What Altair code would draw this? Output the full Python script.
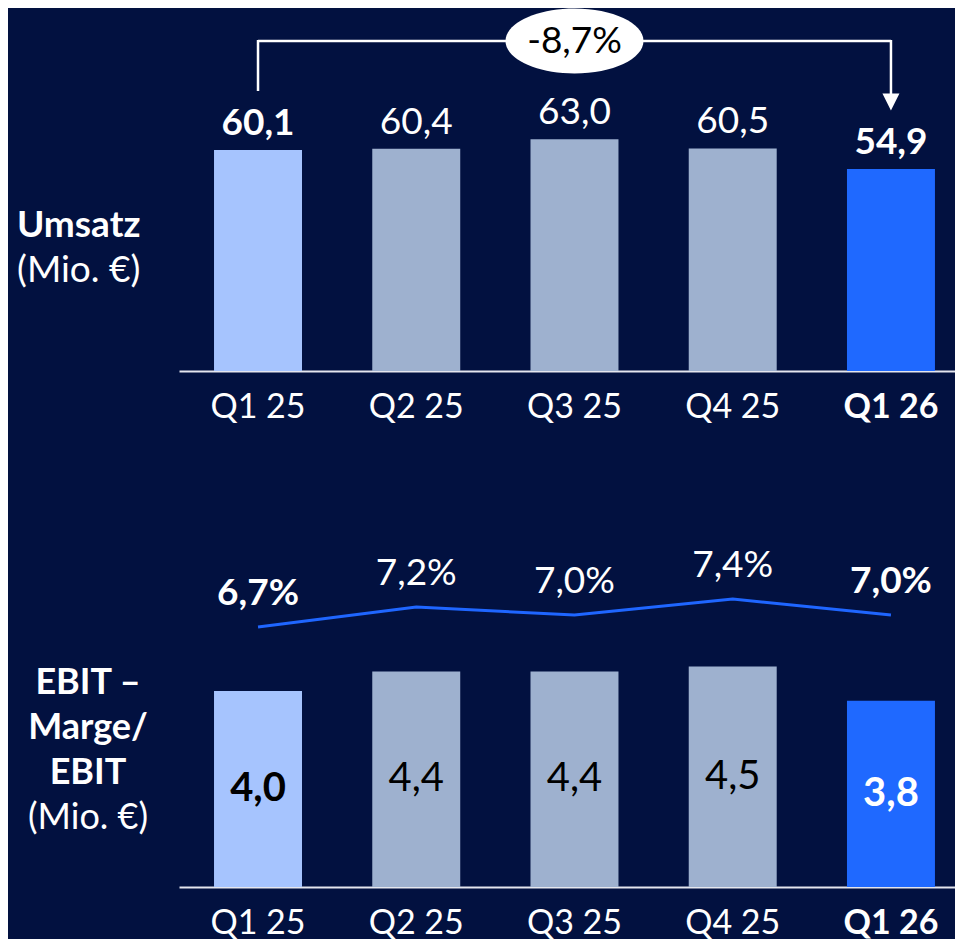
import altair as alt
import pandas as pd

# ---- data -------------------------------------------------------------
quarters = ["Q1 25", "Q2 25", "Q3 25", "Q4 25", "Q1 26"]
umsatz = [60.1, 60.4, 63.0, 60.5, 54.9]          # Mio. €
ebit = [4.0, 4.4, 4.4, 4.5, 3.8]                 # Mio. €
marge = [6.7, 7.2, 7.0, 7.4, 7.0]                # %
highlight = ["Q1 25", "Q1 26"]                   # bold entries

change = round((umsatz[-1] / umsatz[0] - 1) * 100, 1)


def de(v, suffix=""):
    return f"{v:.1f}".replace(".", ",") + suffix


df = pd.DataFrame({
    "q": quarters,
    "umsatz": umsatz,
    "ebit": ebit,
    "marge": marge,
    "u_lbl": [de(v) for v in umsatz],
    "e_lbl": [de(v) for v in ebit],
    "m_lbl": [de(v, "%") for v in marge],
    "bold": [q in highlight for q in quarters],
})

# ---- style ------------------------------------------------------------
BG = "#021140"
FONT = "Lato"
bar_colors = ["#a6c4fe", "#9eb1cf", "#9eb1cf", "#9eb1cf", "#1f69ff"]
color_scale = alt.Scale(domain=quarters, range=bar_colors)
x_scale = alt.Scale(domain=quarters, paddingInner=0.444, paddingOuter=0.174, align=0.636)

W = 776
H_TOP = 362
H_BOT = 356

x_axis = alt.Axis(
    title=None, labelAngle=0, ticks=False, domainColor="#e4e6ee", domainWidth=2,
    labelColor="white", labelFontSize=34, labelFont=FONT, labelPadding=19,
    labelFontWeight=alt.expr("datum.value == 'Q1 26' ? 'bold' : 'normal'"),
)
X = alt.X("q:N", sort=quarters, scale=x_scale, axis=x_axis)

one = pd.DataFrame({"k": [0]})

# ---- top panel: Umsatz -----------------------------------------------
y_top = alt.Scale(domain=[0, 98.4])
base_top = alt.Chart(df)

bars_top = base_top.mark_bar().encode(
    x=X,
    y=alt.Y("umsatz:Q", scale=y_top, axis=None),
    color=alt.Color("q:N", scale=color_scale, legend=None),
)
lbl_top_n = base_top.transform_filter("!datum.bold").mark_text(
    font=FONT, fontSize=37, color="white", baseline="alphabetic", dy=-15
).encode(x=X, y=alt.Y("umsatz:Q", scale=y_top, axis=None), text="u_lbl:N")
lbl_top_b = base_top.transform_filter("datum.bold").mark_text(
    font=FONT, fontSize=37, fontWeight="bold", color="white", baseline="alphabetic", dy=-15
).encode(x=X, y=alt.Y("umsatz:Q", scale=y_top, axis=None), text="u_lbl:N")

br = pd.DataFrame({"q": [quarters[0], quarters[-1]]})
br_line = alt.Chart(br).mark_line(color="white", strokeWidth=2.5).encode(
    x=X, y=alt.value(32))
br_left = alt.Chart(pd.DataFrame({"q": [quarters[0]]})).mark_rule(
    color="white", strokeWidth=2.5).encode(x=X, y=alt.value(31), y2=alt.value(82))
br_right = alt.Chart(pd.DataFrame({"q": [quarters[-1]]})).mark_rule(
    color="white", strokeWidth=2.5).encode(x=X, y=alt.value(31), y2=alt.value(88))
arrow = alt.Chart(pd.DataFrame({"q": [quarters[-1]]})).mark_point(
    shape="M -1 -1 L 1 -1 L 0 1 Z", filled=True, color="white", opacity=1, size=289
).encode(x=X, y=alt.value(93))

ell_df = pd.DataFrame({"q": [quarters[2]], "t": [de(change, "%")]})
ellipse = alt.Chart(ell_df).mark_point(
    shape="M -1 0 C -1 -0.2596 -0.5523 -0.47 0 -0.47 C 0.5523 -0.47 1 -0.2596 1 0 "
          "C 1 0.2596 0.5523 0.47 0 0.47 C -0.5523 0.47 -1 0.2596 -1 0 Z",
    filled=True, color="white", opacity=1, size=138 * 138,
).encode(x=X, y=alt.value(32))
ell_txt = alt.Chart(ell_df).mark_text(
    font=FONT, fontSize=37, color="black", baseline="middle", dy=1
).encode(x=X, y=alt.value(32), text="t:N")

side_top1 = alt.Chart(one).mark_text(
    font=FONT, fontSize=37, fontWeight="bold", color="white", align="left", baseline="alphabetic"
).encode(x=alt.value(-162), y=alt.value(228), text=alt.value("Umsatz"))
side_top2 = alt.Chart(one).mark_text(
    font=FONT, fontSize=37, color="white", align="left", baseline="alphabetic"
).encode(x=alt.value(-162), y=alt.value(273), text=alt.value("(Mio. €)"))

top = alt.layer(
    bars_top, lbl_top_n, lbl_top_b, br_line, br_left, br_right, arrow,
    ellipse, ell_txt, side_top1, side_top2
).properties(width=W, height=H_TOP)

# ---- bottom panel: EBIT + Marge --------------------------------------
y_bot = alt.Scale(domain=[0, 7.265])
y_line = alt.Scale(domain=[0.2, 9.1])
base_bot = alt.Chart(df)

bars_bot = base_bot.mark_bar().encode(
    x=X,
    y=alt.Y("ebit:Q", scale=y_bot, axis=None),
    color=alt.Color("q:N", scale=color_scale, legend=None),
)
txt_col = alt.condition("datum.q == 'Q1 26'", alt.value("white"), alt.value("black"))
inner_n = base_bot.transform_filter("!datum.bold").transform_calculate(
    mid="datum.ebit / 2").mark_text(font=FONT, fontSize=40, baseline="middle").encode(
    x=X, y=alt.Y("mid:Q", scale=y_bot, axis=None), text="e_lbl:N", color=txt_col)
inner_b = base_bot.transform_filter("datum.bold").transform_calculate(
    mid="datum.ebit / 2").mark_text(font=FONT, fontSize=40, fontWeight="bold", baseline="middle").encode(
    x=X, y=alt.Y("mid:Q", scale=y_bot, axis=None), text="e_lbl:N", color=txt_col)

line = base_bot.mark_line(color="#1f66ff", strokeWidth=3).encode(
    x=X, y=alt.Y("marge:Q", scale=y_line, axis=None))
m_n = base_bot.transform_filter("!datum.bold").mark_text(
    font=FONT, fontSize=37, color="white", baseline="middle", dy=-33
).encode(x=X, y=alt.Y("marge:Q", scale=y_line, axis=None), text="m_lbl:N")
m_b = base_bot.transform_filter("datum.bold").mark_text(
    font=FONT, fontSize=37, fontWeight="bold", color="white", baseline="middle", dy=-33
).encode(x=X, y=alt.Y("marge:Q", scale=y_line, axis=None), text="m_lbl:N")

bars_layer = alt.layer(bars_bot, inner_n, inner_b)
line_layer = alt.layer(line, m_n, m_b)

side_lines = [("EBIT –", "bold", 163), ("Marge/", "bold", 208), ("EBIT", "bold", 253), ("(Mio. €)", "normal", 298)]
side_bot = [
    alt.Chart(one).mark_text(
        font=FONT, fontSize=36, fontWeight=w, color="white", align="center", baseline="alphabetic"
    ).encode(x=alt.value(-91), y=alt.value(yy), text=alt.value(t))
    for t, w, yy in side_lines
]

bottom = alt.layer(bars_layer, line_layer, *side_bot).resolve_scale(y="independent").properties(
    width=W, height=H_BOT)

chart = alt.vconcat(top, bottom, spacing=107).resolve_scale(y="independent").properties(
    background=BG, padding={"left": 9, "top": 0, "right": 0, "bottom": 0}
).configure_view(stroke=None)

chart.save("out.html", embed_options={"renderer": "svg", "actions": False})
